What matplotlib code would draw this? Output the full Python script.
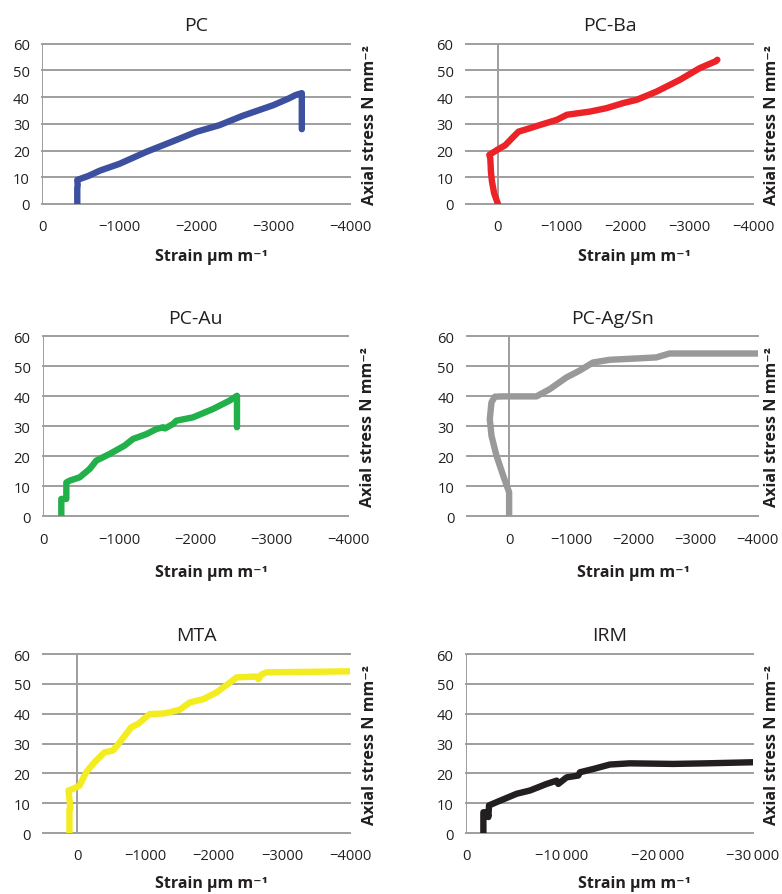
import numpy as np
import matplotlib.pyplot as plt

plt.rcParams['font.family'] = ['Open Sans', 'DejaVu Sans']

# Strain (um/m) and axial stress (N/mm2)
pc_x = [-455, -455, -460, -455, -600, -750, -1000, -1350, -1700, -2000, -2300, -2600, -3000, -3200, -3290, -3370, -3370, -3370]
pc_y = [0, 6, 7, 9, 10.5, 12.5, 15, 19.5, 23.5, 27, 29.5, 33, 37, 39.5, 40.8, 41.5, 35, 28]

ba_x = [0, 60, 94, 110, 120, 135, 16, -115, -219, -323, -506, -662, -923, -1080, -1445, -1705, -1966, -2175, -2488, -2853, -3166, -3420, -3440]
ba_y = [0, 4, 8.4, 12, 17, 18.4, 20.2, 22, 24.6, 27.1, 28.4, 29.6, 31.5, 33.4, 34.6, 35.9, 37.8, 39, 42.1, 46.5, 50.9, 53.5, 54]

au_x = [-240, -240, -306, -306, -350, -481, -612, -700, -874, -1071, -1180, -1355, -1486, -1574, -1600, -1705, -1749, -1967, -2230, -2448, -2544, -2544]
au_y = [0, 5.8, 5.8, 11.3, 11.9, 13, 15.8, 18.6, 20.8, 23.6, 25.8, 27.4, 29.1, 29.7, 29.3, 30.8, 31.9, 33, 35.8, 38.6, 40.2, 29.7]

ag_x = [0, 0, 96, 203, 284, 311, 284, 230, 96, -439, -653, -921, -1135, -1349, -1617, -2100, -2367, -2581, -4200]
ag_y = [0, 8, 13.6, 20.2, 26.9, 32.4, 38, 39.9, 40, 40, 42.4, 46.3, 48.6, 51.3, 52.2, 52.7, 53, 54.3, 54.3]

mta_x = [113, 113, 100, 127, 64, -34, -132, -255, -401, -524, -622, -793, -891, -1062, -1258, -1356, -1503, -1650, -1846, -2042, -2238, -2335, -2629, -2654, -2700, -2776, -4200]
mta_y = [0, 8.1, 8.5, 14.3, 14.8, 15.9, 20.4, 23.8, 27.1, 27.7, 30.4, 35.5, 36.6, 39.9, 40.1, 40.5, 41.4, 43.8, 44.9, 47.2, 50.5, 52.2, 52.5, 51.6, 53.2, 53.9, 54.3]

irm_x = [-1810, -1810, -2228, -2332, -2400, -3200, -4246, -5290, -6683, -8423, -9467, -9641, -10511, -11730, -11900, -13296, -15036, -17124, -21650, -25130, -30500]
irm_y = [0, 7, 7, 5.4, 9.3, 10.4, 11.8, 13.2, 14.3, 16.5, 17.6, 16.5, 18.7, 19.3, 20.4, 21.5, 23, 23.4, 23.2, 23.4, 23.8]

titles = ['PC', 'PC-Ba', 'PC-Au', 'PC-Ag/Sn', 'MTA', 'IRM']
colors = ['#3d4f9f', '#ec2227', '#22b04b', '#999999', '#f3ec1e', '#231f20']
xs = [pc_x, ba_x, au_x, ag_x, mta_x, irm_x]
ys = [pc_y, ba_y, au_y, ag_y, mta_y, irm_y]
xlims = [(0, -4000), (500, -4000), (0, -4000), (680, -4000), (500, -4000), (0, -30000)]
xticks = [[0, -1000, -2000, -3000, -4000]] * 5 + [[0, -10000, -20000, -30000]]
xticklabels = [['0', '\u22121000', '\u22122000', '\u22123000', '\u22124000']] * 5 + \
              [['0', '\u221210\u2009000', '\u221220\u2009000', '\u221230\u2009000']]

# axes boxes in figure fraction [left, bottom, width, height]
boxes = [[0.054, 0.771, 0.394, 0.179], [0.596, 0.771, 0.367, 0.179],
         [0.055, 0.422, 0.390, 0.201], [0.597, 0.422, 0.372, 0.201],
         [0.055, 0.068, 0.393, 0.200], [0.596, 0.068, 0.367, 0.200]]
# x label centres (axes fraction) - they sit right of the plot centre
xlab_x = [0.55, 0.585, 0.551, 0.574, 0.547, 0.585]
xlab_y = [-0.325, -0.325, -0.311, -0.311, -0.277, -0.277]
ylab_x = [1.065, 1.065, 1.065, 1.048, 1.065, 1.065]

grid_c = '#9e9e9e'
text_c = '#231f20'

fig = plt.figure(figsize=(7.82, 8.95), dpi=100)
for i in range(6):
    ax = fig.add_axes(boxes[i])
    ax.set_xlim(xlims[i])
    ax.set_ylim(0, 60)
    ax.set_yticks(range(0, 61, 10))
    for yv in range(0, 61, 10):
        ax.axhline(yv, color=grid_c, lw=1.4, zorder=1, clip_on=False)
    ax.axvline(0, color=grid_c, lw=1.4, zorder=1)
    ax.plot(xs[i], ys[i], color=colors[i], lw=4.6, solid_capstyle='round',
            solid_joinstyle='round', zorder=3)
    for s in ax.spines.values():
        s.set_visible(False)
    ax.set_xticks(xticks[i])
    ax.set_xticklabels(xticklabels[i])
    ax.tick_params(length=0, labelsize=10.6, labelcolor=text_c)
    ax.tick_params(axis='x', pad=11)
    ax.tick_params(axis='y', pad=9)
    ax.set_title(titles[i], fontsize=14, color=text_c, pad=10)
    ax.set_xlabel('Strain \u00b5m m\u207b\u00b9', fontsize=11.5, fontweight='bold',
                  color=text_c, va='center')
    ax.xaxis.set_label_coords(xlab_x[i], xlab_y[i])
    ax.text(ylab_x[i], 0.5, 'Axial stress N mm\u207b\u00b2', transform=ax.transAxes,
            rotation=90, ha='center', va='center', fontsize=11.6,
            fontweight='bold', color=text_c)

fig.savefig('out.png', dpi=100, facecolor='white')
